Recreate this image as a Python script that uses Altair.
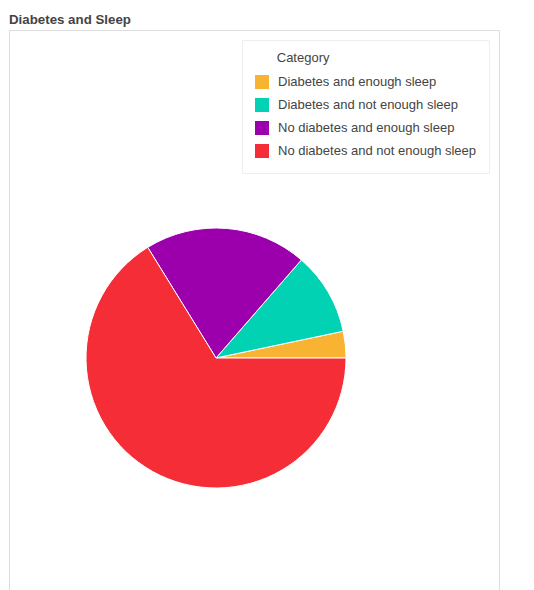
import math
import altair as alt
import pandas as pd

categories = [
    "Diabetes and enough sleep",
    "Diabetes and not enough sleep",
    "No diabetes and enough sleep",
    "No diabetes and not enough sleep",
]
shares = [3.3, 10.3, 20.2, 66.2]
colors = ["#F8B332", "#00D2B3", "#9C00AD", "#F52D37"]
stack_order = [3, 2, 1, 0]

df = pd.DataFrame({"Category": categories, "Share": shares, "ord": stack_order})

indent = "\u200b" + "\u00a0" * 6 + "\u200a"

chart = (
    alt.Chart(df)
    .mark_arc(outerRadius=130, stroke="white", strokeWidth=1)
    .encode(
        x=alt.value(207),
        y=alt.value(328),
        theta=alt.Theta(
            "Share:Q",
            stack=True,
            scale=alt.Scale(range=[math.pi / 2, math.pi / 2 + 2 * math.pi]),
        ),
        order=alt.Order("ord:Q", sort="ascending"),
        color=alt.Color(
            "Category:N",
            scale=alt.Scale(domain=categories, range=colors),
            legend=alt.Legend(
                title=indent + "Category",
                orient="top-right",
                offset=10,
                padding=12,
                strokeColor="#eeeeee",
                fillColor="white",
                symbolType="square",
                symbolSize=225,
                symbolStrokeColor="white",
                symbolStrokeWidth=1,
                labelFontSize=13,
                labelColor="#444444",
                labelFont="Liberation Sans",
                labelOffset=8,
                labelLimit=300,
                rowPadding=3,
                titleFontSize=13,
                titleFontWeight="normal",
                titleColor="#444444",
                titleFont="Liberation Sans",
                titlePadding=9,
            ),
        ),
        tooltip=["Category:N", "Share:Q"],
    )
    .properties(
        width=490,
        height=660,
        padding={"left": 9, "top": 12, "right": 5, "bottom": 5},
        title=alt.TitleParams(
            "Diabetes and Sleep",
            anchor="start",
            fontSize=13.3,
            fontWeight="bold",
            font="Liberation Sans",
            color="#444444",
            offset=4,
        ),
    )
    .configure_view(stroke="#dddddd", strokeWidth=1)
)

chart.save("out.html", embed_options={"renderer": "svg", "actions": False})
